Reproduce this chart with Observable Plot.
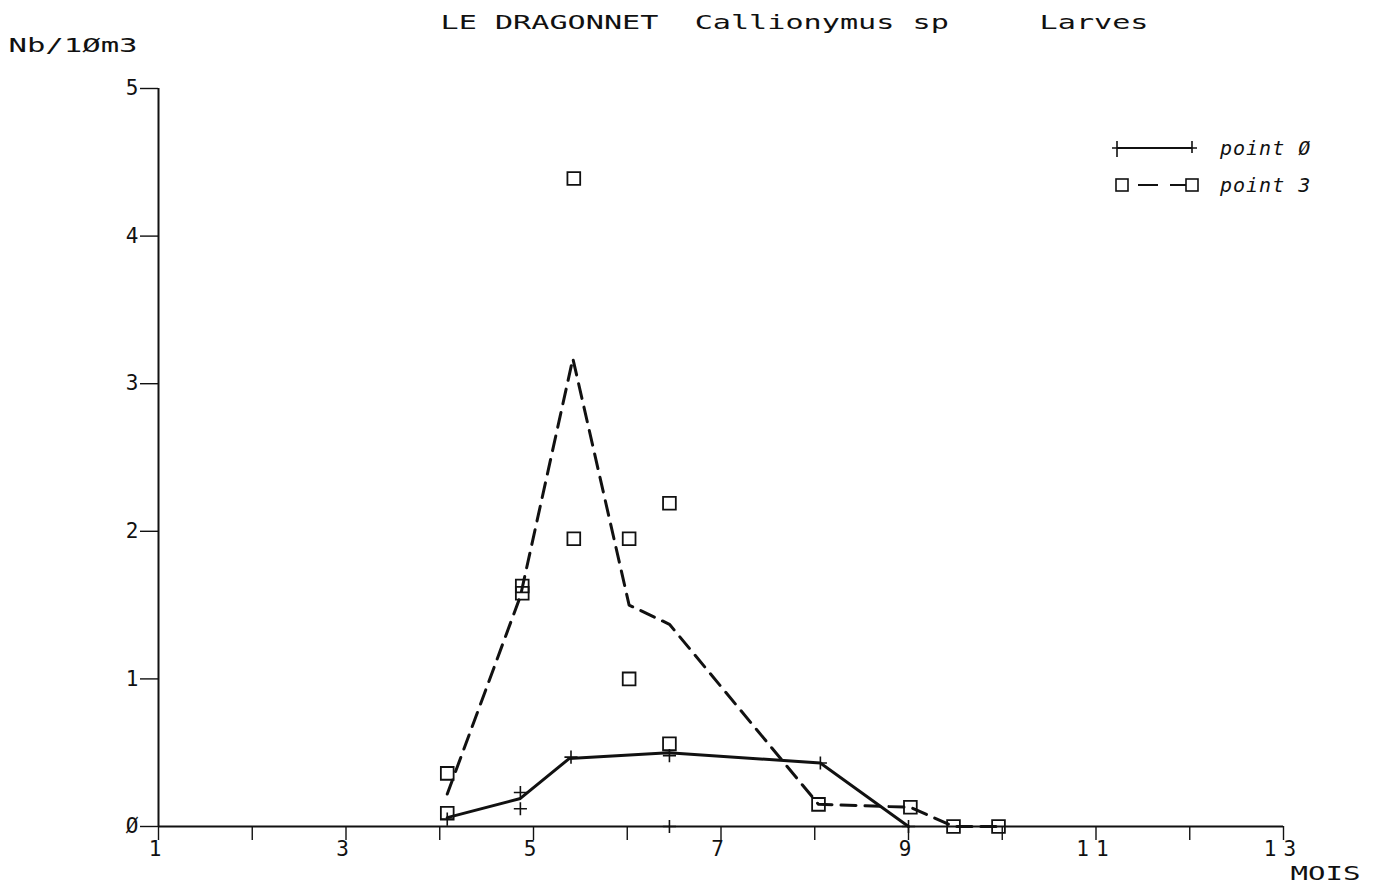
<!DOCTYPE html>
<html>
<head>
<meta charset="utf-8">
<script src="https://cdn.jsdelivr.net/npm/d3@7"></script>
<script src="https://cdn.jsdelivr.net/npm/@observablehq/plot@0.6"></script>
<style>
  html, body { margin: 0; padding: 0; background: #fff; }
  #wrap { position: relative; width: 1378px; height: 886px; overflow: hidden; }
  #wrap svg { font-family: "DejaVu Sans Mono", monospace; color: #111; }
  .xlab text { letter-spacing: 7px; }
  #legend { position: absolute; left: 1100px; top: 125px; }
  #legend text { font-family: "DejaVu Sans Mono", monospace; font-style: italic; font-size: 20px; letter-spacing: 1px; fill: #111; }
</style>
</head>
<body>
<div id="wrap"></div>
<script>
// ---- Data ----
// point Ø : mean line (solid) and individual observations (+)
const line0Month = [4.08, 4.86, 5.38, 6.44, 8.06, 9.00];
const line0Value = [0.06, 0.19, 0.46, 0.50, 0.43, 0.00];
const obs0Month  = [4.08, 4.86, 4.86, 5.40, 6.45, 6.45, 8.06, 9.00];
const obs0Value  = [0.05, 0.23, 0.12, 0.47, 0.48, 0.00, 0.43, 0.00];
// point 3 : mean line (dashed) and individual observations (squares)
const line3Month = [4.08, 4.86, 5.42, 6.02, 6.45, 8.04, 9.02, 9.48, 9.96];
const line3Value = [0.22, 1.56, 3.17, 1.50, 1.37, 0.15, 0.13, 0.00, 0.00];
const obs3Month  = [4.08, 4.08, 4.88, 4.88, 5.43, 5.43, 6.02, 6.02, 6.45, 6.45, 8.04, 9.02, 9.48, 9.96];
const obs3Value  = [0.36, 0.09, 1.63, 1.58, 4.39, 1.95, 1.95, 1.00, 2.19, 0.56, 0.15, 0.13, 0.00, 0.00];
// axis ticks / labels
const xTicks = [1, 2, 3, 4, 5, 6, 7, 8, 9, 10, 11, 12, 13];
const xLabelled = [1, 3, 5, 7, 9, 11, 13];
const yTicks = [0, 1, 2, 3, 4, 5];
const titleText = "LE DRAGONNET  Callionymus sp     Larves";
const yUnitText = "Nb/1Øm3";
const xUnitText = "MOIS";
const legendItems = [
  { label: "point Ø", symbol: "plus", dash: null },
  { label: "point 3", symbol: "square", dash: "20,12" }
];

const zeroFmt = d => d === 0 ? "Ø" : String(d);
const toRows = (xs, ys) => xs.map((x, i) => ({ month: x, value: ys[i] }));
const line0 = toRows(line0Month, line0Value);
const obs0 = toRows(obs0Month, obs0Value);
const line3 = toRows(line3Month, line3Value);
const obs3 = toRows(obs3Month, obs3Value);

const chart = Plot.plot({
  width: 1378,
  height: 886,
  marginLeft: 158,
  marginRight: 95,
  marginTop: 88,
  marginBottom: 60,
  style: { fontFamily: "DejaVu Sans Mono, monospace", fontSize: "20px", background: "white", color: "#111" },
  x: { domain: [1, 13] },
  y: { domain: [0, 5] },
  marks: [
    Plot.axisY({ ticks: yTicks, tickSize: 18, tickPadding: 2, tickFormat: zeroFmt, label: null, fontSize: 21, strokeWidth: 1.4 }),
    Plot.axisX({ ticks: xTicks, tickSize: 14, tickPadding: 1, tickFormat: d => xLabelled.includes(d) ? zeroFmt(d) : "", label: null, fontSize: 21, strokeWidth: 1.4, className: "xlab" }),
    Plot.ruleY([0], { x1: 1, x2: 13, stroke: "#111", strokeWidth: 2 }),
    Plot.ruleX([1], { y1: 0, y2: 5, stroke: "#111", strokeWidth: 2 }),
    Plot.line(line3, { x: "month", y: "value", stroke: "#111", strokeWidth: 3, strokeDasharray: "15,9" }),
    Plot.line(line0, { x: "month", y: "value", stroke: "#111", strokeWidth: 3 }),
    Plot.dot(obs3, { x: "month", y: "value", symbol: "square", r: 7.2, fill: "none", stroke: "#111", strokeWidth: 1.8 }),
    Plot.dot(obs0, { x: "month", y: "value", symbol: "plus", r: 4.3, stroke: "#111", strokeWidth: 1.6 }),
    Plot.text([titleText], { frameAnchor: "top-left", dx: 282, dy: -66, textAnchor: "start", lineAnchor: "middle", fontSize: 19, fill: "#111", className: "ttl-title" }),
    Plot.text([yUnitText], { frameAnchor: "top-left", dx: -150, dy: -43, textAnchor: "start", lineAnchor: "middle", fontSize: 19, fill: "#111", className: "ttl-unit" }),
    Plot.text([xUnitText], { frameAnchor: "bottom-right", dx: 7, dy: 47, textAnchor: "start", lineAnchor: "middle", fontSize: 19, fill: "#111", className: "ttl-mois" })
  ]
});
document.getElementById("wrap").appendChild(chart);

// stretch the plotter-style wide glyphs to the widths seen in the reference
const stretch = { "ttl-title": 708, "ttl-unit": 129, "ttl-mois": 70 };
Object.entries(stretch).forEach(([cls, w]) => {
  d3.select(chart).selectAll(`g.${cls} text`).attr("textLength", w).attr("lengthAdjust", "spacingAndGlyphs");
});

// ---- Legend (top right) ----
const lg = d3.select("#wrap").append("svg").attr("id", "legend").attr("width", 240).attr("height", 80);
legendItems.forEach((it, i) => {
  const y = 23 + i * 37;
  const g = lg.append("g").attr("stroke", "#111").attr("fill", "none");
  if (it.symbol === "plus") {
    g.append("line").attr("x1", 17).attr("x2", 92).attr("y1", y).attr("y2", y).attr("stroke-width", 2);
    [17, 92].forEach(cx => {
      g.append("path").attr("d", `M${cx - 5},${y}H${cx + 5}M${cx},${y - 7}V${cx === 17 ? y + 9 : y + 5}`).attr("stroke-width", 1.6);
    });
  } else {
    g.append("line").attr("x1", 38).attr("x2", 86).attr("y1", y).attr("y2", y).attr("stroke-width", 2.2).attr("stroke-dasharray", it.dash);
    [22, 92].forEach(cx => {
      g.append("rect").attr("x", cx - 6).attr("y", y - 6).attr("width", 12).attr("height", 12).attr("stroke-width", 1.6);
    });
  }
  lg.append("text").attr("x", 120).attr("y", y).attr("dy", "0.35em").text(it.label);
});
</script>
</body>
</html>
